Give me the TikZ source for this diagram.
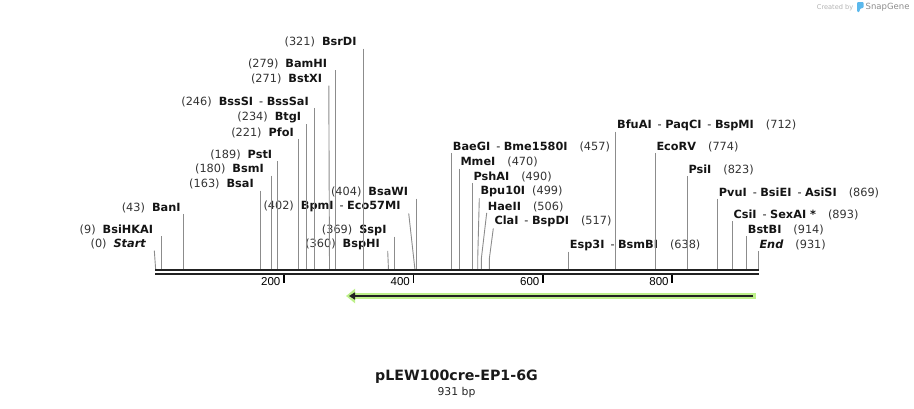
\documentclass[tikz,border=0pt]{standalone}
\usepackage{fontspec}
\setmainfont{DejaVu Sans}
\newfontfamily\tickfont{Liberation Sans}
\usetikzlibrary{arrows.meta}

\definecolor{leadgray}{HTML}{8C8C8C}
\definecolor{bbgray}{HTML}{222222}
\definecolor{numgray}{HTML}{333333}
\definecolor{featgreen}{HTML}{BDF08A}
\definecolor{sgblue}{HTML}{5BB8EC}

\newcommand\enz[1]{\textbf{#1}}
\newcommand\bpn[1]{{\color{numgray}(#1)}}
\newcommand\lgap{\hspace{7pt}}
\newcommand\rgap{\hspace{12pt}}
\newcommand\dsh{\hspace{6pt}-\hspace{3.5pt}}

\begin{document}
\begin{tikzpicture}[x=1pt, y=-1pt,
  lbl/.style={inner sep=1pt, font=\fontsize{11.3}{13}\selectfont, text=black!92},
  lft/.style={lbl, anchor=east},
  rgt/.style={lbl, anchor=west},
  leader/.style={draw=leadgray, line width=0.9pt},
  backbone/.style={draw=bbgray, line width=2pt},
  tickmark/.style={draw=black, line width=1.8pt},
  ticklbl/.style={anchor=east, inner sep=0pt, font=\tickfont\fontsize{11.5}{13}\selectfont}]
\useasboundingbox (0,0) rectangle (914,408);

% cut sites on the backbone
\coordinate (p0) at (155.7,270);
\coordinate (p9) at (161.2,270);
\coordinate (p43) at (183.5,270);
\coordinate (p163) at (260.5,270);
\coordinate (p180) at (271,270);
\coordinate (p189) at (277.3,270);
\coordinate (p221) at (298.5,270);
\coordinate (p234) at (306.7,270);
\coordinate (p246) at (314.3,270);
\coordinate (p271) at (329.5,270);
\coordinate (p279) at (335.7,270);
\coordinate (p321) at (363.3,270);
\coordinate (p360) at (388.5,270);
\coordinate (p369) at (394.3,270);
\coordinate (p402) at (415,270);
\coordinate (p404) at (416.5,270);
\coordinate (p457) at (451.5,270);
\coordinate (p470) at (459.3,270);
\coordinate (p490) at (472.3,270);
\coordinate (p499) at (477.7,270);
\coordinate (p506) at (481.3,270);
\coordinate (p517) at (489.3,270);
\coordinate (p638) at (568.5,270);
\coordinate (p712) at (615.3,270);
\coordinate (p774) at (655.3,270);
\coordinate (p823) at (687.3,270);
\coordinate (p869) at (717.3,270);
\coordinate (p893) at (732.3,270);
\coordinate (p914) at (746.7,270);
\coordinate (p931) at (758.3,270);

% labels left of their sites
\node[lft] (BsrDI) at (357.7,42.3) {\bpn{321}\lgap\enz{BsrDI}};
\node[lft] (BamHI) at (328.3,64) {\bpn{279}\lgap\enz{BamHI}};
\node[lft] (BstXI) at (323.3,79.3) {\bpn{271}\lgap\enz{BstXI}};
\node[lft] (BssSI) at (310,101.7) {\bpn{246}\lgap\enz{BssSI}\dsh\enz{BssSaI}};
\node[lft] (BtgI) at (302.3,117.3) {\bpn{234}\lgap\enz{BtgI}};
\node[lft] (PfoI) at (295,132.7) {\bpn{221}\lgap\enz{PfoI}};
\node[lft] (PstI) at (273.3,155) {\bpn{189}\lgap\enz{PstI}};
\node[lft] (BsmI) at (265,169.3) {\bpn{180}\lgap\enz{BsmI}};
\node[lft] (BsaI) at (255,184.3) {\bpn{163}\lgap\enz{BsaI}};
\node[lft] (BanI) at (181.7,207.7) {\bpn{43}\lgap\enz{BanI}};
\node[lft] (BsiHKAI) at (154.3,230) {\bpn{9}\lgap\enz{BsiHKAI}};
\node[lft] (Start) at (147.3,244.3) {\bpn{0}\lgap\enz{\textit{Start}}};
\node[lft] (BsaWI) at (409.3,192.3) {\bpn{404}\lgap\enz{BsaWI}};
\node[lft] (BpmI) at (401.7,206.7) {\bpn{402}\lgap\enz{BpmI}\dsh\enz{Eco57MI}};
\node[lft] (SspI) at (387.7,230) {\bpn{369}\lgap\enz{SspI}};
\node[lft] (BspHI) at (381,244.3) {\bpn{360}\lgap\enz{BspHI}};

% labels right of their sites
\node[rgt] (BaeGI) at (451.7,146.7) {\enz{BaeGI}\dsh\enz{Bme1580I}\rgap\bpn{457}};
\node[rgt] (MmeI) at (459.3,162.3) {\enz{MmeI}\rgap\bpn{470}};
\node[rgt] (PshAI) at (472.3,176.7) {\enz{PshAI}\rgap\bpn{490}};
\node[rgt] (Bpu10I) at (479.3,191.7) {\enz{Bpu10I}\hspace{7pt}\bpn{499}};
\node[rgt] (HaeII) at (486.7,206.7) {\enz{HaeII}\rgap\bpn{506}};
\node[rgt] (ClaI) at (493.3,221.7) {\enz{ClaI}\dsh\enz{BspDI}\rgap\bpn{517}};
\node[rgt] (Esp3I) at (568.7,245) {\enz{Esp3I}\dsh\enz{BsmBI}\rgap\bpn{638}};
\node[rgt] (BfuAI) at (616,125) {\enz{BfuAI}\dsh\enz{PaqCI}\dsh\enz{BspMI}\rgap\bpn{712}};
\node[rgt] (EcoRV) at (655.3,146.7) {\enz{EcoRV}\rgap\bpn{774}};
\node[rgt] (PsiI) at (687.3,170) {\enz{PsiI}\rgap\bpn{823}};
\node[rgt] (PvuI) at (717.7,192.7) {\enz{PvuI}\dsh\enz{BsiEI}\dsh\enz{AsiSI}\rgap\bpn{869}};
\node[rgt] (CsiI) at (732.3,215) {\enz{CsiI}\dsh\enz{SexAI *}\rgap\bpn{893}};
\node[rgt] (BstBI) at (746.7,230) {\enz{BstBI}\rgap\bpn{914}};
\node[rgt] (End) at (758.3,245) {\enz{\textit{End}}\rgap\bpn{931}};

% leader lines
\draw[leader] ([xshift=7pt]Start.south east) -- (p0);
\draw[leader] (BsiHKAI.south east -| p9) -- (p9);
\draw[leader] (BanI.south east -| p43) -- (p43);
\draw[leader] (BsaI.south east -| p163) -- (p163);
\draw[leader] (BsmI.south east -| p180) -- (p180);
\draw[leader] (PstI.south east -| p189) -- (p189);
\draw[leader] (PfoI.south east -| p221) -- (p221);
\draw[leader] (BtgI.south east -| p234) -- (p234);
\draw[leader] (BssSI.south east -| p246) -- (p246);
\draw[leader] ([xshift=5.5pt]BstXI.south east) -- (p271);
\draw[leader] (BamHI.south east -| p279) -- (p279);
\draw[leader] (BsrDI.south east -| p321) -- (p321);
\draw[leader] ([xshift=6.7pt]BspHI.south east) -- (p360);
\draw[leader] (SspI.south east -| p369) -- (p369);
\draw[leader] ([xshift=7pt]BpmI.south east) -- (p402);
\draw[leader] (BsaWI.south east -| p404) -- (p404);
\draw[leader] (BaeGI.south west -| p457) -- (p457);
\draw[leader] (MmeI.south west -| p470) -- (p470);
\draw[leader] (PshAI.south west -| p490) -- (p490);
\draw[leader] (Bpu10I.south west) -- ([yshift=11pt]p499) -- (p499);
\draw[leader] (HaeII.south west) -- ([yshift=11pt]p506) -- (p506);
\draw[leader] (ClaI.south west) -- ([yshift=11pt]p517) -- (p517);
\draw[leader] (Esp3I.south west -| p638) -- (p638);
\draw[leader] (BfuAI.south west -| p712) -- (p712);
\draw[leader] (EcoRV.south west -| p774) -- (p774);
\draw[leader] (PsiI.south west -| p823) -- (p823);
\draw[leader] (PvuI.south west -| p869) -- (p869);
\draw[leader] (CsiI.south west -| p893) -- (p893);
\draw[leader] (BstBI.south west -| p914) -- (p914);
\draw[leader] (End.south west -| p931) -- (p931);

% backbone
\coordinate (bbl) at (155,270.3);
\coordinate (bbr) at (759,270.3);
\draw[backbone] (bbl) -- (bbr);
\draw[backbone] ([yshift=-4pt]bbl) -- ([yshift=-4pt]bbr);

% ruler
\coordinate (t200) at (284,275.3);
\coordinate (t400) at (413.5,275.3);
\coordinate (t600) at (543,275.3);
\coordinate (t800) at (672.3,275.3);
\draw[tickmark] (t200) -- ++(0,7.4);
\draw[tickmark] (t400) -- ++(0,7.4);
\draw[tickmark] (t600) -- ++(0,7.4);
\draw[tickmark] (t800) -- ++(0,7.4);
\node[ticklbl] (l200) at ([xshift=-3.5pt,yshift=-6pt]t200) {200};
\node[ticklbl] (l400) at ([xshift=-3.5pt,yshift=-6pt]t400) {400};
\node[ticklbl] (l600) at ([xshift=-3.5pt,yshift=-6pt]t600) {600};
\node[ticklbl] (l800) at ([xshift=-3.5pt,yshift=-6pt]t800) {800};

% feature arrow
\coordinate (fr) at (755.5,296);
\coordinate (fl) at (346,296);
\draw[featgreen, line width=6pt, -{Triangle[length=9pt,width=14pt]}] (fr) -- (fl);
\draw[bbgray, line width=2pt, -{Triangle[length=6pt,width=7pt]}] ([xshift=-2.5pt]fr) -- ([xshift=3pt]fl);

% title
\node[font=\bfseries\fontsize{14.2}{17}\selectfont, text=black!90] (title) at (456.5,377) {pLEW100cre-EP1-6G};
\node[font=\fontsize{10.8}{12}\selectfont, text=black!85] (size) at (456.5,392.3) {931 bp};

% credit
\node[anchor=west, inner sep=0pt, text=black!30, font=\fontsize{6.6}{8}\selectfont] (cby) at (816.7,7.5) {Created by};
\fill[sgblue, rounded corners=1pt] (857,2) -- (863.5,2) -- (863.5,8) -- (860,8.5) -- (859.5,12) -- (857,12) -- cycle;
\node[anchor=west, inner sep=0pt, text=black!45, font=\fontsize{8.5}{10}\selectfont] (sg) at (865.5,7.5) {SnapGene};
\end{tikzpicture}
\end{document}
